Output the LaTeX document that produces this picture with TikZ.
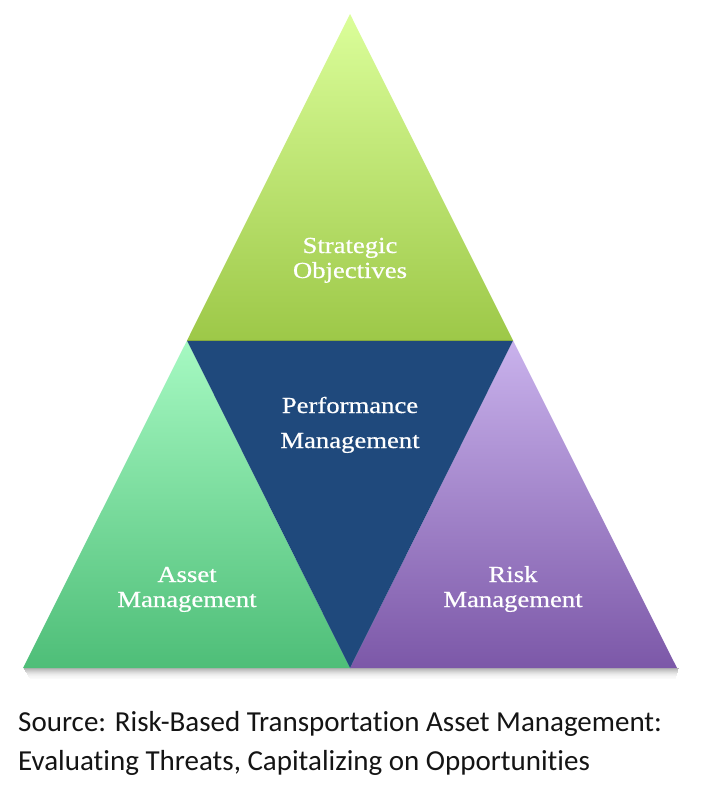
\documentclass[tikz,border=0pt]{standalone}
\usepackage{fontspec}
\newfontfamily\lblfont[FakeStretch=1.16,FakeBold=0.6]{Liberation Serif}
\newfontfamily\srcfont[Ligatures={NoCommon,NoContextual}]{Carlito}
\definecolor{topA}{RGB}{219,254,154}
\definecolor{topB}{RGB}{157,200,72}
\definecolor{navyc}{RGB}{31,73,124}
\definecolor{grnA}{RGB}{166,249,194}
\definecolor{grnB}{RGB}{78,190,120}
\definecolor{purA}{RGB}{201,178,236}
\definecolor{purB}{RGB}{124,88,168}
\definecolor{srctext}{RGB}{20,20,20}
\begin{document}
\begin{tikzpicture}[x=1pt,y=-1pt,
  lbl/.style={text=white,font=\lblfont\fontsize{23}{25}\selectfont,anchor=base,inner sep=0pt},
  src/.style={text=srctext,font=\srcfont\fontsize{29}{34}\selectfont,anchor=base west,inner sep=0pt}]
\useasboundingbox (0,0) rectangle (701,787);
\fill[white] (0,0) rectangle (701,787);
\coordinate (A) at (350,14);
\coordinate (L) at (187,340.5);
\coordinate (R) at (513,340.5);
\coordinate (BL) at (23,668);
\coordinate (BM) at (350,668);
\coordinate (BR) at (677,668);
% shadow
\foreach \d/\o in {1/0.30,2/0.26,3/0.22,4/0.18,5/0.14,6/0.11,7/0.08,8/0.06,9/0.04,10/0.03,11/0.02}{
  \fill[black,opacity=\o] (23+\d*0.6,667+\d) rectangle (679-\d*0.3,668+\d);
}
% triangles
\shade[top color=topA, bottom color=topB] (A) -- (R) -- (L) -- cycle;
\shade[top color=grnA, bottom color=grnB] (L) -- (BM) -- (BL) -- cycle;
\shade[top color=purA, bottom color=purB] (R) -- (BR) -- (BM) -- cycle;
\fill[navyc] (L) -- (R) -- (BM) -- cycle;
\draw[topB!85!black,line width=1pt] (L) -- (R);
% labels
\node[lbl] (so1) at (350,253) {Strategic};
\node[lbl] (so2) at (350,278) {Objectives};
\node[lbl] (pm1) at (350,413) {Performance};
\node[lbl] (pm2) at (350,448) {Management};
\node[lbl] (am1) at (187,582) {Asset};
\node[lbl] (am2) at (187,607) {Management};
\node[lbl] (rm1) at (513,582) {Risk};
\node[lbl] (rm2) at (513,607) {Management};
\node[src] (s1) at (18,731) {Source: Risk-Based Transportation Asset Management:};
\node[src] (s2) at (18,770) {Evaluating Threats, Capitalizing on Opportunities};
\end{tikzpicture}
\end{document}
